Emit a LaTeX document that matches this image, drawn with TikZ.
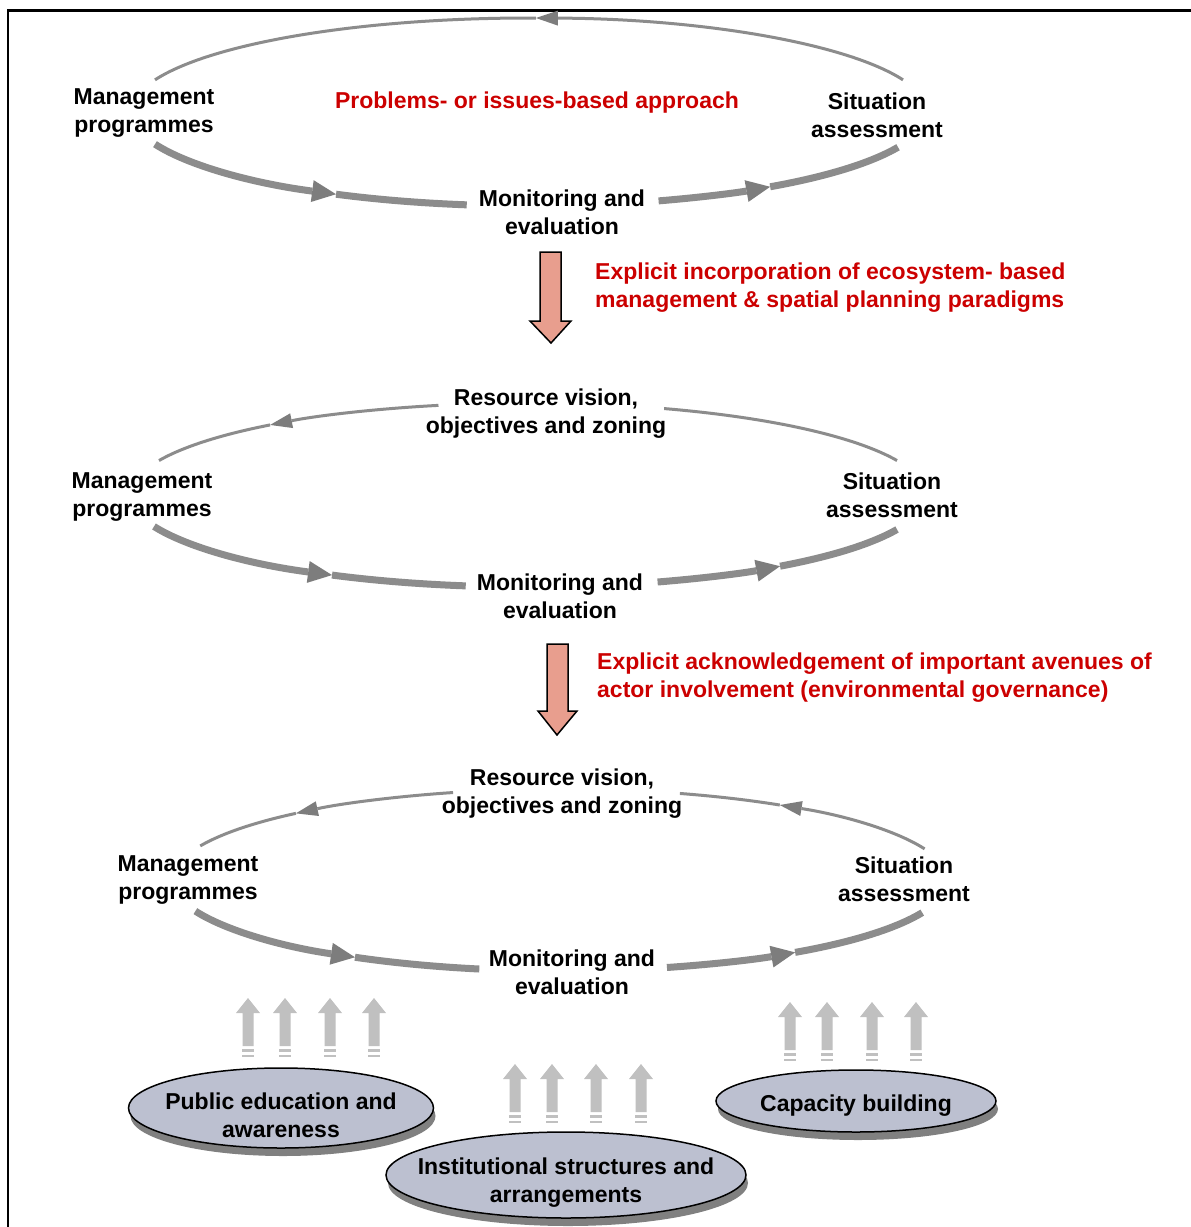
\documentclass[tikz,border=0pt]{standalone}
\usepackage{fontspec}
\setmainfont{Liberation Sans}
\usetikzlibrary{arrows.meta,calc,shapes.geometric,shadows}

\definecolor{ringgray}{RGB}{140,140,140}
\definecolor{headgray}{RGB}{125,125,125}
\definecolor{liftgray}{RGB}{192,192,192}
\definecolor{notered}{RGB}{204,0,0}
\definecolor{shiftfill}{RGB}{232,158,142}
\definecolor{actorfill}{RGB}{188,192,208}
\definecolor{actorshadow}{RGB}{128,128,128}

% one elliptical segment of a cycle: style, centre, start angle, end angle, rx, ry
\newcommand\ringpart[6]{%
  \draw[#1] ($(#2)+(#3:#5 and #6)$) arc[start angle=#3, end angle=#4, x radius=#5, y radius=#6];}
% a segment with an arrow head part way: tip style, line style, centre, start, tip, end, rx, ry
\newcommand\ringflow[8]{%
  \draw[#2,#1] ($(#3)+(#4:#7 and #8)$) arc[start angle=#4, end angle=#5, x radius=#7, y radius=#8];
  \draw[#2] ($(#3)+(#5:#7 and #8)$) arc[start angle=#5, end angle=#6, x radius=#7, y radius=#8];}

\begin{document}
\begin{tikzpicture}[x=1pt,y=-1pt,
  stage/.style={font=\fontsize{23}{28}\selectfont\bfseries, align=center, inner sep=0pt},
  redline/.style={font=\fontsize{23}{28}\selectfont\bfseries, text=notered, align=left, inner sep=0pt},
  upperring/.style={draw=ringgray, line width=3pt},
  lowerring/.style={draw=ringgray, line width=7pt},
  uppertip/.style={-{Triangle[length=22pt,width=15pt,line width=0pt,color=headgray]}},
  lowertip/.style={-{Triangle[length=24pt,width=22pt,line width=0pt,color=headgray]}},
  shiftarrow/.style={draw=black, line width=1.5pt, fill=shiftfill, line join=miter},
  actor/.style={ellipse, inner sep=0pt, draw=black, line width=1.5pt, fill=actorfill,
    drop shadow={shadow xshift=2pt, shadow yshift=-8pt, fill=actorshadow, opacity=1}},
  lift/.pic={
    \fill[liftgray] (0,0) -- (12,15) -- (5.5,15) -- (5.5,48) -- (-5.5,48) -- (-5.5,15) -- (-12,15) -- cycle;
    \fill[liftgray] (-6,51) rectangle (6,54);
    \fill[liftgray] (-6,56.5) rectangle (6,58.5);
  }]

\useasboundingbox (0,0) rectangle (1191,1227);
\fill[white] (0,0) rectangle (1191,1227);

% frame
\draw[line width=2.5pt, line join=miter] (8,1227) -- (8,10.5) -- (1191,10.5);

% ---------- cycle 1: problems- or issues-based approach ----------
\coordinate (r1) at (529,112);
\node[stage] (mp1) at (144,113) {Management\\programmes};
\node[stage] (sa1) at (877,115) {Situation\\assessment};
\node[stage] (me1) at (562,212) {Monitoring and\\evaluation};
\node[redline, align=center] (pb1) at (537,103) {Problems- or issues-based approach};
\ringflow{uppertip}{upperring}{r1}{-20}{-89}{-160}{398}{94}
\ringflow{lowertip}{lowerring}{r1}{160}{119}{99}{398}{94}
\ringflow{lowertip}{lowerring}{r1}{71}{52.7}{22}{398}{94}

% transition 1
\draw[shiftarrow] (540,252) -- (561,252) -- (561,321) -- (571,321) -- (551,343)
  -- (530,321) -- (540,321) -- cycle;
\node[redline, anchor=west] (tr1) at (595,288)
  {Explicit incorporation of ecosystem- based\\management \& spatial planning paradigms};

% ---------- cycle 2 ----------
\coordinate (r2) at (528,495);
\node[stage] (rv2) at (546,414) {Resource vision,\\objectives and zoning};
\node[stage] (mp2) at (142,497) {Management\\programmes};
\node[stage] (sa2) at (892,495) {Situation\\assessment};
\node[stage] (me2) at (560,596) {Monitoring and\\evaluation};
\ringflow{uppertip}{upperring}{r2}{-103}{-130.4}{-158}{398}{92}
\ringpart{upperring}{r2}{-22}{-70}{398}{92}
\ringflow{lowertip}{lowerring}{r2}{160}{119.5}{99}{398}{92}
\ringflow{lowertip}{lowerring}{r2}{71}{50.7}{22}{398}{92}

% transition 2
\draw[shiftarrow] (547,644) -- (568,644) -- (568,711) -- (577,711) -- (557,735)
  -- (538,711) -- (547,711) -- cycle;
\node[redline, anchor=west] (tr2) at (597,678)
  {Explicit acknowledgement of important avenues of\\actor involvement (environmental governance)};

% ---------- cycle 3 ----------
\coordinate (r3) at (560,880);
\node[stage] (rv3) at (562,794) {Resource vision,\\objectives and zoning};
\node[stage] (mp3) at (188,880) {Management\\programmes};
\node[stage] (sa3) at (904,879) {Situation\\assessment};
\node[stage] (me3) at (572,972) {Monitoring and\\evaluation};
\ringflow{uppertip}{upperring}{r3}{-106}{-132.9}{-158}{388}{91}
\ringflow{uppertip}{upperring}{r3}{-20}{-55.5}{-72}{388}{91}
\ringflow{lowertip}{lowerring}{r3}{160}{121.9}{102}{388}{91}
\ringflow{lowertip}{lowerring}{r3}{74}{52.7}{21}{388}{91}

% ---------- avenues of actor involvement ----------
\foreach \x in {248,285,330,374} \pic at (\x,998) {lift};
\foreach \x in {515,552,596,641} \pic at (\x,1064) {lift};
\foreach \x in {790,827,872,916} \pic at (\x,1002) {lift};

\node[actor, minimum width=305pt, minimum height=80pt] (pe) at (281,1108) {};
\node[actor, minimum width=360pt, minimum height=86pt] (is) at (566,1175) {};
\node[actor, minimum width=280pt, minimum height=62pt] (cb) at (856,1101) {};
\node[stage] (pet) at ($(pe)+(0,7)$) {Public education and\\awareness};
\node[stage] (ist) at ($(is)+(0,8)$) {Institutional structures and\\arrangements};
\node[stage] (cbt) at ($(cb)+(0,5)$) {Capacity building};

\end{tikzpicture}
\end{document}
